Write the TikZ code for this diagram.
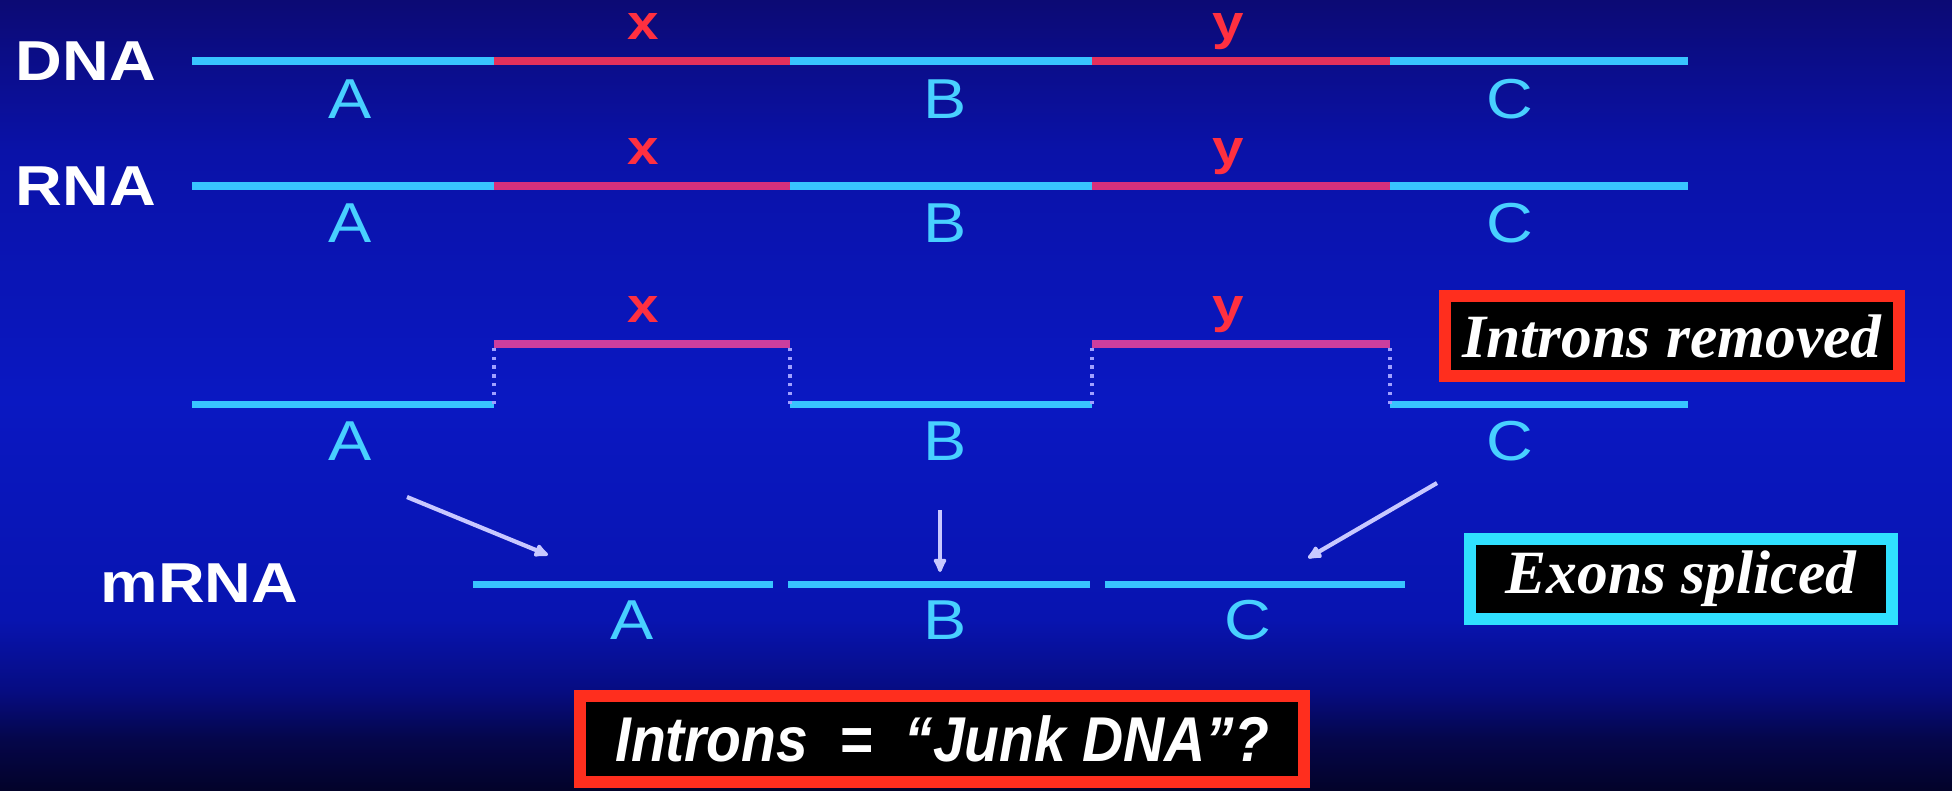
\documentclass[tikz,border=0pt]{standalone}
\usepackage{fontspec}
\usetikzlibrary{arrows.meta}
\newfontfamily\slidefont[FakeStretch=1.15]{Liberation Sans}
\newfontfamily\boxfont{Liberation Serif}
\newfontfamily\junkfont[FakeStretch=0.9]{Liberation Sans}

\definecolor{exoncol}{HTML}{38C4FF}
\definecolor{exontext}{HTML}{48D0FF}
\definecolor{dnared}{HTML}{E3305C}
\definecolor{rnared}{HTML}{D6307C}
\definecolor{cutred}{HTML}{CC3E9E}
\definecolor{introntext}{HTML}{FF3040}
\definecolor{dotcol}{HTML}{A0A0FF}
\definecolor{arrowcol}{HTML}{C8C8FF}
\definecolor{boxred}{HTML}{FF2E1E}
\definecolor{boxcyan}{HTML}{30E0FF}
\definecolor{bgTop}{HTML}{0C0A74}
\definecolor{bgA}{HTML}{0A12A8}
\definecolor{bgB}{HTML}{0A18C2}
\definecolor{bgC}{HTML}{0814B0}
\definecolor{bgD}{HTML}{060C82}
\definecolor{bgE}{HTML}{05064A}
\definecolor{bgF}{HTML}{03032A}
\pgfdeclareverticalshading{slidebg}{100bp}{color(0bp)=(bgF); color(25bp)=(bgF); color(28.2bp)=(bgE); color(31.3bp)=(bgD); color(35.8bp)=(bgC); color(49.7bp)=(bgB); color(65.5bp)=(bgA); color(75bp)=(bgTop); color(100bp)=(bgTop)}

\begin{document}
\begin{tikzpicture}[x=0.01cm, y=-0.01cm,
	exon/.style={draw=exoncol, line width=2pt},
	intron/.style={line width=2pt},
	cut/.style={draw=dotcol, line width=1pt, dash pattern=on 1pt off 1.5pt},
	splice/.style={draw=arrowcol, line width=1.2pt, -{Latex[round, length=5pt, width=4.5pt]}},
	name tag/.style={font=\slidefont\bfseries\fontsize{16}{16}\selectfont, text=white, inner sep=0pt, anchor=base west},
	exon tag/.style={font=\slidefont\fontsize{16}{16}\selectfont, text=exontext, inner sep=0pt, anchor=base},
	intron tag/.style={font=\slidefont\bfseries\fontsize{14}{14}\selectfont, text=introntext, inner sep=0pt, anchor=base},
	note box/.style={draw, line width=0.12cm, fill=black, text=white, inner sep=0pt, minimum height=0.8cm, font=\boxfont\bfseries\itshape\fontsize{17.5}{17.5}\selectfont}]
	
	\shade[shading=slidebg] (0,0) rectangle (1952,790);
	\useasboundingbox (0,0) rectangle (1952,790);
	
	\foreach \px [count=\i] in {192,494,790,1092,1390,1688} {
		\coordinate (dna-\i) at (\px,61);
		\coordinate (rna-\i) at (\px,186);
		\coordinate (low-\i) at (\px,404);
		\coordinate (high-\i) at (\px,344);
	}
	\foreach \px [count=\i] in {473,773,788,1090,1105,1405}
	\coordinate (m-\i) at (\px,584);
	
	\foreach \i/\j in {1/2,3/4,5/6} {
		\draw [exon] (dna-\i) -- (dna-\j);
		\draw [exon] (rna-\i) -- (rna-\j);
		\draw [exon] (low-\i) -- (low-\j);
		\draw [exon] (m-\i) -- (m-\j);
	}
	\foreach \i/\j in {2/3,4/5} {
		\draw [intron, draw=dnared] (dna-\i) -- (dna-\j);
		\draw [intron, draw=rnared] (rna-\i) -- (rna-\j);
		\draw [intron, draw=cutred] (high-\i) -- (high-\j);
	}
	\foreach \i in {2,...,5}
	\draw [cut] (low-\i) -- (high-\i);
	
	\node [name tag] (dna) at (15,80) {DNA};
	\node [name tag] (rna) at (15,205) {RNA};
	\node [name tag] (mrna) at (100,602) {mRNA};
	
	\foreach \l/\px in {A/350,B/945,C/1510} {
		\node [exon tag] (dna-\l) at (\px,118) {\l};
		\node [exon tag] (rna-\l) at (\px,242) {\l};
		\node [exon tag] (low-\l) at (\px,460) {\l};
	}
	\foreach \l/\px in {A/632,B/945,C/1248}
	\node [exon tag] (m-\l) at (\px,639) {\l};
	
	\foreach \l/\px in {x/643,y/1228} {
		\node [intron tag] (dna-\l) at (\px,39) {\l};
		\node [intron tag] (rna-\l) at (\px,164) {\l};
		\node [intron tag] (high-\l) at (\px,322) {\l};
	}
	
	\coordinate (from-A) at (407,497);
	\coordinate (to-A) at (548,555);
	\coordinate (from-B) at (940,510);
	\coordinate (to-B) at (940,572);
	\coordinate (from-C) at (1437,483);
	\coordinate (to-C) at (1308,558);
	\foreach \l in {A,B,C}
	\draw [splice] (from-\l) -- (to-\l);
	
	\node [note box, draw=boxred, minimum width=4.53cm] (removed) at (1672,336) {Introns removed};
	\node [note box, draw=boxcyan, minimum width=4.21cm] (spliced) at (1681,579) {Exons spliced};
	\node [note box, draw=boxred, minimum width=7.23cm, minimum height=0.86cm, font=\junkfont\bfseries\itshape\fontsize{18}{18}\selectfont] (junk) at (942,739) {Introns\ \ =\ \ “Junk DNA”?};
\end{tikzpicture}
\end{document}
